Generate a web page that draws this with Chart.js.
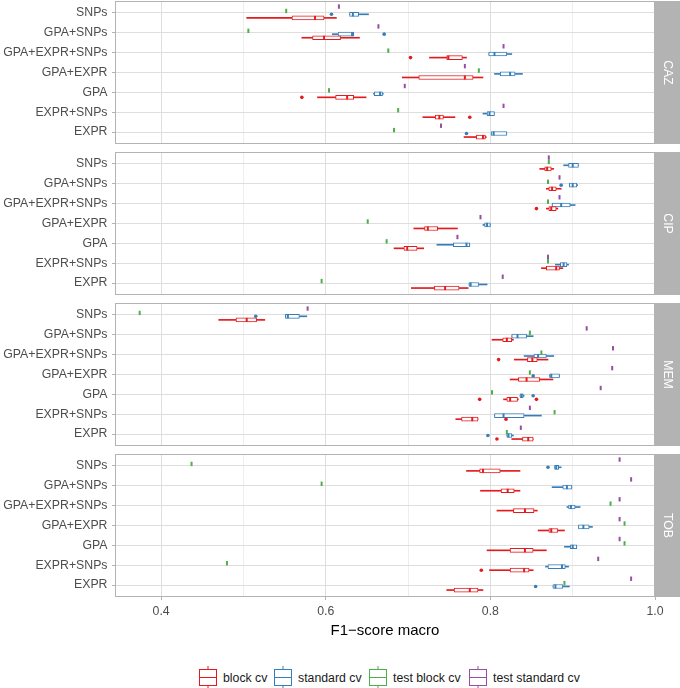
<!DOCTYPE html>
<html>
<head>
<meta charset="utf-8">
<script src="https://cdn.jsdelivr.net/npm/chart.js@4.4.0/dist/chart.umd.min.js"></script>
<style>
body { margin: 0; background: #fff; }
#wrap { position: relative; width: 680px; height: 688px; font-family: 'Liberation Sans', Arial, sans-serif; }
#wrap > canvas { position: absolute; left: 0; }
.item { position: absolute; top: 666px; height: 23px; display: flex; align-items: center; font-size: 12.3px; color: #1a1a1a; white-space: nowrap; }
.item canvas { margin-right: 5px; }
</style>
</head>
<body>
<div id="wrap">
  <canvas id="p0" width="680" height="145"></canvas>
  <canvas id="p1" width="680" height="145"></canvas>
  <canvas id="p2" width="680" height="145"></canvas>
  <canvas id="p3" width="680" height="192"></canvas>
</div>
<script>
// categories, top to bottom
var categories = ['SNPs', 'GPA+SNPs', 'GPA+EXPR+SNPs', 'GPA+EXPR', 'GPA', 'EXPR+SNPs', 'EXPR'];
var panelNames = ['CAZ', 'CIP', 'MEM', 'TOB'];
var seriesNames = ['block cv', 'standard cv', 'test block cv', 'test standard cv'];

// boxes: [lower whisker, q1, median, q3, upper whisker] per category
var cazBlock = [
    [0.504, 0.559, 0.587, 0.598, 0.613],
    [0.571, 0.584, 0.598, 0.618, 0.641],
    [0.726, 0.747, 0.749, 0.766, 0.771],
    [0.693, 0.713, 0.769, 0.779, 0.791],
    [0.590, 0.612, 0.626, 0.634, 0.649],
    [0.718, 0.733, 0.738, 0.743, 0.757],
    [0.768, 0.783, 0.791, 0.794, 0.795]
];
var cazStandard = [
    [0.629, 0.629, 0.633, 0.640, 0.652],
    [0.608, 0.615, 0.632, 0.634, 0.634],
    [0.798, 0.798, 0.805, 0.820, 0.826],
    [0.805, 0.812, 0.824, 0.830, 0.839],
    [0.658, 0.659, 0.666, 0.669, 0.670],
    [0.791, 0.796, 0.799, 0.805, 0.805],
    [0.801, 0.801, 0.804, 0.820, 0.820]
];
var cazBlockOut = [['GPA+EXPR+SNPs', 0.703], ['GPA', 0.571], ['EXPR+SNPs', 0.775]];
var cazStandardOut = [['SNPs', 0.607], ['GPA+SNPs', 0.671], ['EXPR', 0.771]];
var cazTestBlock = [0.552, 0.506, 0.676, 0.786, 0.604, 0.688, 0.683];
var cazTestStandard = [0.616, 0.664, 0.816, 0.769, 0.696, 0.816, 0.740];

var cipBlock = [
    [0.860, 0.866, 0.869, 0.874, 0.877],
    [0.868, 0.871, 0.875, 0.880, 0.886],
    [0.868, 0.871, 0.874, 0.880, 0.882],
    [0.707, 0.720, 0.724, 0.736, 0.760],
    [0.683, 0.695, 0.699, 0.711, 0.719],
    [0.862, 0.868, 0.880, 0.884, 0.888],
    [0.704, 0.732, 0.745, 0.762, 0.773]
];
var cipStandard = [
    [0.889, 0.895, 0.900, 0.907, 0.907],
    [0.896, 0.896, 0.900, 0.905, 0.906],
    [0.875, 0.875, 0.886, 0.897, 0.903],
    [0.791, 0.793, 0.796, 0.800, 0.800],
    [0.735, 0.755, 0.771, 0.775, 0.775],
    [0.879, 0.885, 0.889, 0.893, 0.895],
    [0.774, 0.774, 0.776, 0.786, 0.796]
];
var cipBlockOut = [['GPA+EXPR+SNPs', 0.856]];
var cipStandardOut = [['GPA+SNPs', 0.886]];
var cipTestBlock = [0.871, 0.870, 0.870, 0.651, 0.674, 0.870, 0.595];
var cipTestStandard = [0.871, 0.884, 0.884, 0.788, 0.760, 0.870, 0.815];

var memBlock = [
    [0.470, 0.491, 0.504, 0.516, 0.526],
    [0.802, 0.815, 0.820, 0.826, 0.828],
    [0.829, 0.845, 0.851, 0.857, 0.870],
    [0.824, 0.834, 0.844, 0.860, 0.876],
    [0.816, 0.820, 0.824, 0.833, 0.834],
    [0.758, 0.765, 0.778, 0.785, 0.785],
    [0.826, 0.839, 0.846, 0.852, 0.852]
];
var memStandard = [
    [0.551, 0.551, 0.554, 0.568, 0.577],
    [0.826, 0.826, 0.833, 0.844, 0.852],
    [0.841, 0.853, 0.858, 0.868, 0.877],
    [0.872, 0.872, 0.874, 0.884, 0.884],
    [0.836, 0.836, 0.838, 0.840, 0.841],
    [0.805, 0.805, 0.816, 0.841, 0.862],
    [0.820, 0.820, 0.822, 0.826, 0.828]
];
var memBlockOut = [['GPA+EXPR+SNPs', 0.810], ['GPA', 0.787], ['GPA', 0.856], ['EXPR+SNPs', 0.819], ['EXPR', 0.808]];
var memStandardOut = [['SNPs', 0.515], ['GPA+EXPR', 0.852], ['GPA', 0.852], ['EXPR', 0.797]];
var memTestBlock = [0.374, 0.848, 0.862, 0.848, 0.802, 0.878, 0.820];
var memTestStandard = [0.578, 0.917, 0.949, 0.948, 0.934, 0.848, 0.837];

var tobBlock = [
    [0.771, 0.787, 0.791, 0.812, 0.836],
    [0.788, 0.813, 0.821, 0.829, 0.836],
    [0.808, 0.828, 0.842, 0.853, 0.857],
    [0.858, 0.871, 0.874, 0.882, 0.890],
    [0.796, 0.824, 0.842, 0.852, 0.868],
    [0.799, 0.824, 0.841, 0.847, 0.852],
    [0.747, 0.756, 0.775, 0.785, 0.791]
];
var tobStandard = [
    [0.878, 0.878, 0.880, 0.883, 0.886],
    [0.875, 0.888, 0.893, 0.899, 0.899],
    [0.893, 0.895, 0.898, 0.903, 0.909],
    [0.907, 0.907, 0.913, 0.920, 0.924],
    [0.890, 0.897, 0.900, 0.905, 0.905],
    [0.867, 0.870, 0.887, 0.891, 0.895],
    [0.876, 0.876, 0.879, 0.888, 0.896]
];
var tobBlockOut = [['EXPR+SNPs', 0.789]];
var tobStandardOut = [['SNPs', 0.870], ['EXPR', 0.855]];
var tobTestBlock = [0.437, 0.595, 0.946, 0.963, 0.963, 0.480, 0.890];
var tobTestStandard = [0.957, 0.971, 0.957, 0.957, 0.957, 0.931, 0.971];

var xTicks = [0.4, 0.6, 0.8, 1.0];

var panels = [
    {block: cazBlock, standard: cazStandard, blockOut: cazBlockOut, standardOut: cazStandardOut, testBlock: cazTestBlock, testStandard: cazTestStandard},
    {block: cipBlock, standard: cipStandard, blockOut: cipBlockOut, standardOut: cipStandardOut, testBlock: cipTestBlock, testStandard: cipTestStandard},
    {block: memBlock, standard: memStandard, blockOut: memBlockOut, standardOut: memStandardOut, testBlock: memTestBlock, testStandard: memTestStandard},
    {block: tobBlock, standard: tobStandard, blockOut: tobBlockOut, standardOut: tobStandardOut, testBlock: tobTestBlock, testStandard: tobTestStandard}
];

var colors = ['#E41A1C', '#377EB8', '#4DAF4A', '#984EA3'];
var dodge = [-0.25, -0.07, 0.1, 0.32];

Chart.defaults.font.family = "'Liberation Sans', Arial, sans-serif";
Chart.defaults.font.size = 12.3;
Chart.defaults.color = '#4d4d4d';

function yPos(i) { return 7 - i; }

function isMajor(v) { return Math.round(v * 10) % 2 === 0; }

function boxSets(stats, outs, color, off) {
    var whisk = [];
    stats.forEach(function (s, i) {
        whisk.push({y: yPos(i) + off, x: [s[0], s[1]]}, {y: yPos(i) + off, x: [s[3], s[4]]});
    });
    return [
        {type: 'bar', data: whisk, backgroundColor: color, borderWidth: 0, barThickness: 1,
            grouped: false, order: 5},
        {type: 'bar', data: stats.map(function (s, i) { return {y: yPos(i) + off, x: [s[1], s[3]]}; }),
            backgroundColor: '#fff', borderColor: color, borderWidth: 1, barThickness: 4,
            grouped: false, borderSkipped: false, order: 4},
        {type: 'scatter', data: stats.map(function (s, i) { return {x: s[2], y: yPos(i) + off}; }),
            pointStyle: 'line', pointRotation: 90, pointRadius: 2, pointBorderColor: color, pointBorderWidth: 2, order: 3},
        {type: 'scatter', data: outs.map(function (o) { return {x: o[1], y: yPos(categories.indexOf(o[0])) + off}; }),
            pointStyle: 'circle', pointRadius: 1.8, pointBackgroundColor: color, pointBorderWidth: 0, order: 2}
    ];
}

function tickSet(vals, color, off) {
    return {type: 'scatter', data: vals.map(function (v, i) { return {x: v, y: yPos(i) + off}; }),
        pointStyle: 'line', pointRotation: 90, pointRadius: 2.2, pointBorderColor: color, pointBorderWidth: 2, order: 1};
}

var panelDeco = {
    id: 'panelDeco',
    afterDatasetsDraw: function (chart, args, opts) {
        var ctx = chart.ctx, a = chart.chartArea;
        ctx.save();
        ctx.strokeStyle = '#b3b3b3';
        ctx.lineWidth = 1;
        ctx.strokeRect(a.left + 0.5, a.top + 0.5, a.right - a.left - 1, a.bottom - a.top - 1);
        ctx.fillStyle = '#b3b3b3';
        ctx.fillRect(a.right, a.top, 25, a.bottom - a.top);
        ctx.translate(a.right + 12.5, (a.top + a.bottom) / 2);
        ctx.rotate(Math.PI / 2);
        ctx.fillStyle = '#fff';
        ctx.font = "12.3px 'Liberation Sans', Arial, sans-serif";
        ctx.textAlign = 'center';
        ctx.textBaseline = 'middle';
        ctx.fillText(opts.label, 0, 0);
        ctx.restore();
    }
};

var tops = [0, 151, 302, 453];

panels.forEach(function (p, k) {
    var bottom = k === 3;
    var canvas = document.getElementById('p' + k);
    canvas.style.top = tops[k] + 'px';
    var datasets = []
        .concat(boxSets(p.block, p.blockOut, colors[0], dodge[0]))
        .concat(boxSets(p.standard, p.standardOut, colors[1], dodge[1]))
        .concat([tickSet(p.testBlock, colors[2], dodge[2]), tickSet(p.testStandard, colors[3], dodge[3])]);

    new Chart(canvas, {
        type: 'bar',
        data: {datasets: datasets},
        plugins: [panelDeco],
        options: {
            indexAxis: 'y',
            responsive: false,
            animation: false,
            events: [],
            layout: {padding: {top: 1, bottom: bottom ? 0 : 1, left: 0, right: 25}, autoPadding: false},
            plugins: {legend: {display: false}, tooltip: {enabled: false}, panelDeco: {label: panelNames[k]}},
            scales: {
                x: {
                    type: 'linear', min: 0.344, max: 1.0, offset: false,
                    border: {display: false},
                    grid: {
                        offset: false,
                        color: function (c) { return isMajor(c.tick.value) ? '#dedede' : '#eeeeee'; },
                        drawTicks: bottom, tickLength: 3,
                        tickColor: function (c) { return isMajor(c.tick.value) ? '#b3b3b3' : 'rgba(0,0,0,0)'; }
                    },
                    ticks: {
                        display: bottom, stepSize: 0.1, includeBounds: false, autoSkip: false, maxRotation: 0,
                        padding: 4, color: '#4d4d4d',
                        callback: function (v) {
                            var hit = xTicks.find(function (t) { return Math.abs(t - v) < 1e-6; });
                            return hit !== undefined ? hit.toFixed(1) : '';
                        }
                    },
                    title: {display: bottom, text: 'F1\u2212score macro', color: '#000', font: {size: 15}, padding: {top: 0, bottom: 5}},
                    afterFit: function (s) {
                        s.height = bottom ? 48 : 0;
                        s.paddingLeft = 0; s.paddingRight = 0;
                    }
                },
                y: {
                    type: 'linear', min: 0.4, max: 7.6, offset: false,
                    border: {display: false},
                    grid: {offset: false, color: '#dedede', drawTicks: true, tickLength: 3, tickColor: '#b3b3b3'},
                    ticks: {
                        stepSize: 1, includeBounds: false, autoSkip: false, padding: 4.5, color: '#4d4d4d',
                        callback: function (v) { var c = categories[7 - Math.round(v)]; return c === undefined ? '' : c; }
                    },
                    afterFit: function (s) {
                        s.width = 115;
                        s.paddingTop = 0; s.paddingBottom = 0;
                    }
                }
            }
        }
    });
});

// legend: boxplot key glyphs
var legendLeft = [198, 273, 368, 468];
var wrap = document.getElementById('wrap');
seriesNames.forEach(function (name, i) {
    var item = document.createElement('div');
    item.className = 'item';
    item.style.left = legendLeft[i] + 'px';
    var key = document.createElement('canvas');
    key.width = 20;
    key.height = 23;
    var g = key.getContext('2d');
    g.strokeStyle = colors[i];
    g.lineWidth = 1;
    g.strokeRect(1.5, 3.5, 17, 16);
    g.beginPath();
    g.moveTo(10, 0); g.lineTo(10, 3.5);
    g.moveTo(10, 19.5); g.lineTo(10, 23);
    g.moveTo(1.5, 11.5); g.lineTo(18.5, 11.5);
    g.stroke();
    var label = document.createElement('span');
    label.textContent = name;
    item.appendChild(key);
    item.appendChild(label);
    wrap.appendChild(item);
});
</script>
</body>
</html>
